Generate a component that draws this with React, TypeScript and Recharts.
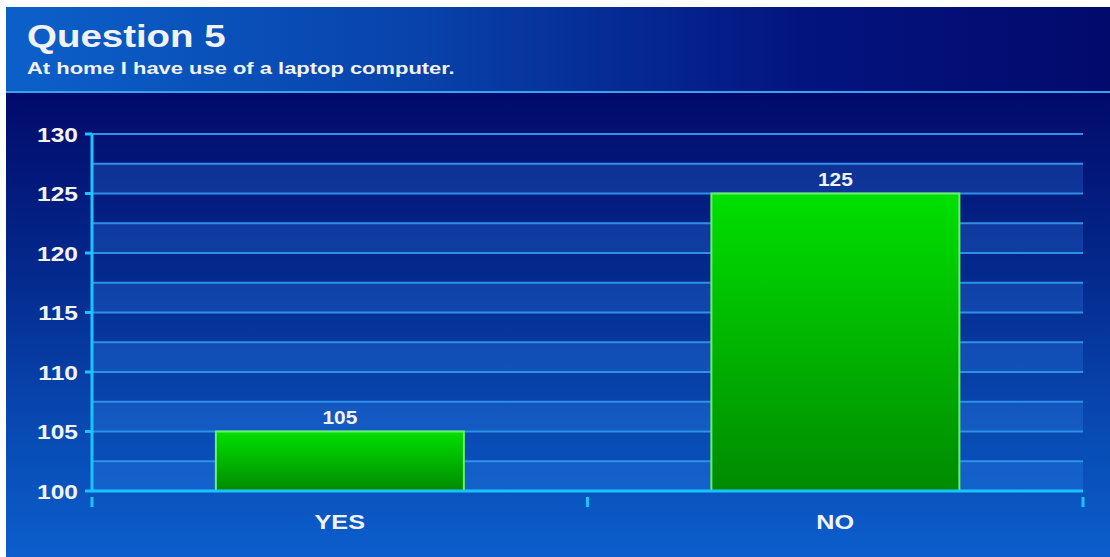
import { BarChart, Bar, XAxis, YAxis, CartesianGrid, LabelList } from "recharts";

const categories = ["YES", "NO"];
const responses = [105, 125];
const yTicks = [100, 105, 110, 115, 120, 125, 130];
const gridValues = [100, 102.5, 105, 107.5, 110, 112.5, 115, 117.5, 120, 122.5, 125, 127.5, 130];

const data = categories.map((name, i) => ({ name, value: responses[i] }));

const W = 1110;
const H = 557;
const MARGIN = { top: 134, right: 27, bottom: 0, left: 0 };
const Y_AXIS_W = 92;
const X_AXIS_H = 66;
const PLOT_W = W - MARGIN.left - MARGIN.right - Y_AXIS_W;
const HALF_BAND = PLOT_W / categories.length / 2;

const FONT = "'Liberation Sans', Arial, sans-serif";
const AXIS_COLOR = "#1cc4ff";
const TEXT = "#f2f2f2";

// the original's lettering is stretched sideways, so text gets a scaleX
function XTick(props: any) {
    const { x, y, payload, index } = props;
    return (
        <g>
            {index === 0 && (
                <line x1={x - HALF_BAND} y1={y - 2} x2={x - HALF_BAND} y2={y + 8} stroke={AXIS_COLOR} strokeWidth={3} />
            )}
            <line x1={x + HALF_BAND} y1={y - 2} x2={x + HALF_BAND} y2={y + 8} stroke={AXIS_COLOR} strokeWidth={3} />
            <text transform={`translate(${x},${y + 30}) scale(1.2,1)`} textAnchor="middle" fill={TEXT} fontSize={21} fontWeight="bold" fontFamily={FONT}>
                {payload.value}
            </text>
        </g>
    );
}

function YTick(props: any) {
    const { x, y, payload } = props;
    return (
        <text transform={`translate(${x - 2},${y}) scale(1.17,1)`} dy="0.36em" textAnchor="end" fill={TEXT} fontSize={21} fontWeight="bold" fontFamily={FONT}>
            {payload.value}
        </text>
    );
}

function ValueLabel(props: any) {
    const { x, y, width, value } = props;
    return (
        <text transform={`translate(${x + width / 2},${y - 8}) scale(1.1,1)`} textAnchor="middle" fill={TEXT} fontSize={19} fontWeight="bold" fontFamily={FONT}>
            {value}
        </text>
    );
}

export default function App() {
    return (
        <div style={{ position: "absolute", left: 0, top: 0, width: W, height: H, background: "#ffffff", overflow: "hidden" }}>
            <div
                style={{
                    position: "absolute", left: 6, top: 7, width: W - 6, height: 84,
                    background: "linear-gradient(90deg, #0c60ca 0%, #0842aa 38%, #03147f 72%, #020a6c 100%)",
                    borderBottom: "2px solid #3aa2ec",
                }}
            />
            <div
                style={{
                    position: "absolute", left: 6, top: 93, width: W - 6, height: H - 93,
                    background: "linear-gradient(180deg, #010a6a 0%, #042a8e 40%, #0848b0 70%, #0b5ecc 100%)",
                }}
            />
            <div style={{ position: "absolute", left: 27, top: 19, color: TEXT, fontFamily: FONT, fontWeight: "bold", fontSize: 31, lineHeight: "36px", transform: "scaleX(1.24)", transformOrigin: "left top", whiteSpace: "nowrap" }}>
                Question 5
            </div>
            <div style={{ position: "absolute", left: 27, top: 59, color: TEXT, fontFamily: FONT, fontWeight: "bold", fontSize: 17, lineHeight: "20px", transform: "scaleX(1.29)", transformOrigin: "left top", whiteSpace: "nowrap" }}>
                At home I have use of a laptop computer.
            </div>
            <div style={{ position: "absolute", left: 0, top: 0 }}>
                <BarChart width={W} height={H} data={data} margin={MARGIN} barCategoryGap="25%">
                    <defs>
                        <linearGradient id="barFill" x1="0" y1="0" x2="0" y2="1">
                            <stop offset="0%" stopColor="#00e000" />
                            <stop offset="100%" stopColor="#008a00" />
                        </linearGradient>
                    </defs>
                    <CartesianGrid
                        vertical={false}
                        horizontalValues={gridValues}
                        stroke="#2e90e6"
                        strokeWidth={2}
                        horizontalFill={["rgba(0,0,0,0)", "rgba(60,150,255,0.22)"]}
                        fillOpacity={1}
                    />
                    <XAxis
                        dataKey="name"
                        height={X_AXIS_H}
                        axisLine={{ stroke: AXIS_COLOR, strokeWidth: 3 }}
                        tickLine={false}
                        tick={<XTick />}
                        interval={0}
                    />
                    <YAxis
                        width={Y_AXIS_W}
                        domain={[100, 130]}
                        ticks={yTicks}
                        interval={0}
                        axisLine={{ stroke: AXIS_COLOR, strokeWidth: 3 }}
                        tickLine={{ stroke: AXIS_COLOR, strokeWidth: 3 }}
                        tickSize={7}
                        tickMargin={5}
                        tick={<YTick />}
                    />
                    <Bar dataKey="value" fill="url(#barFill)" stroke="#6cf06c" strokeWidth={2} isAnimationActive={false}>
                        <LabelList dataKey="value" content={<ValueLabel />} />
                    </Bar>
                </BarChart>
            </div>
        </div>
    );
}
